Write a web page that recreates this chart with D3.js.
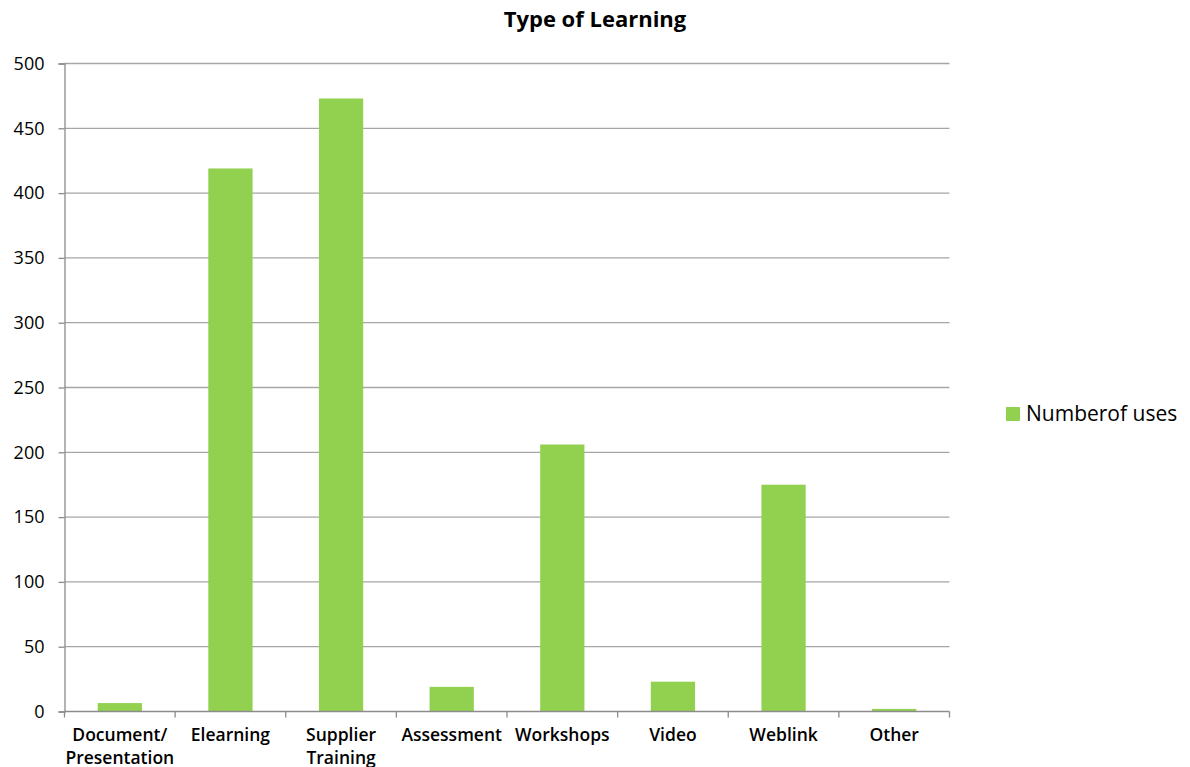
<!DOCTYPE html>
<html><head><meta charset="utf-8">
<script src="https://cdn.jsdelivr.net/npm/d3@7"></script>
<style>body{margin:0;background:#fff}svg{display:block}text{font-family:"Open Sans",sans-serif;fill:#000}</style>
</head><body><svg id="c" width="1190" height="767"></svg>
<script>
const categories = ["Document/\nPresentation","Elearning","Supplier\nTraining","Assessment","Workshops","Video","Weblink","Other"];
const values = [6.5,419,473,19,206,23,175,2];
const yTicks = [0,50,100,150,200,250,300,350,400,450,500];
const seriesName = "Numberof uses";
const title = "Type of Learning";

const svg = d3.select("#c");
const L=64.5, R=949.5, T=63.5, B=711.5;
const x = d3.scaleBand().domain(categories).range([L,R]).paddingInner(0.6).paddingOuter(0.3);
const y = d3.scaleLinear().domain([0,500]).range([B,T]);

// gridlines
svg.append("g").selectAll("line").data(yTicks.filter(d=>d>0)).join("line")
  .attr("x1",L).attr("x2",R).attr("y1",d=>y(d)).attr("y2",d=>y(d))
  .attr("stroke","#a6a6a6").attr("stroke-width",1.3);

// bars
svg.append("g").selectAll("rect").data(values).join("rect")
  .attr("x",(d,i)=>x(categories[i])).attr("width",x.bandwidth())
  .attr("y",d=>y(d)).attr("height",d=>B-y(d)).attr("fill","#92d050");

// y axis
const ya = svg.append("g").attr("transform",`translate(${L},0)`)
  .call(d3.axisLeft(y).tickValues(yTicks).tickSize(6).tickPadding(14));
ya.select(".domain").attr("stroke","#8c8c8c").attr("stroke-width",1.3);
ya.selectAll(".tick line").attr("stroke","#8c8c8c").attr("stroke-width",1.3);
ya.selectAll("text").attr("font-size",18).attr("fill","#111").style("font-family","'Open Sans',sans-serif");

// x axis
const xa = svg.append("g").attr("transform",`translate(0,${B})`);
xa.append("line").attr("x1",L).attr("x2",R).attr("stroke","#8c8c8c").attr("stroke-width",1.3);
const bounds = d3.range(categories.length+1).map(i=>L+i*(R-L)/categories.length);
xa.selectAll(".tk").data(bounds).join("line").attr("class","tk")
  .attr("x1",d=>d).attr("x2",d=>d).attr("y1",0).attr("y2",6).attr("stroke","#8c8c8c").attr("stroke-width",1.3);
const lab = xa.selectAll(".lab").data(categories).join("text").attr("class","lab")
  .attr("text-anchor","middle").attr("font-size",17.5).attr("font-weight",600).attr("fill","#111")
  .attr("transform",d=>`translate(${x(d)+x.bandwidth()/2},0)`);
lab.each(function(d){
  const parts=d.split("\n");
  d3.select(this).selectAll("tspan").data(parts).join("tspan").attr("x",0).attr("y",(p,i)=>29+i*23).text(p=>p);
});

// title
svg.append("text").attr("x",595).attr("y",27).attr("text-anchor","middle")
  .attr("font-size",22).attr("font-weight",700).text(title);

// legend
svg.append("rect").attr("x",1006).attr("y",407).attr("width",14).attr("height",14).attr("fill","#92d050");
svg.append("text").attr("x",1026).attr("y",421).attr("font-size",21).attr("fill","#111").text(seriesName);
</script></body></html>
